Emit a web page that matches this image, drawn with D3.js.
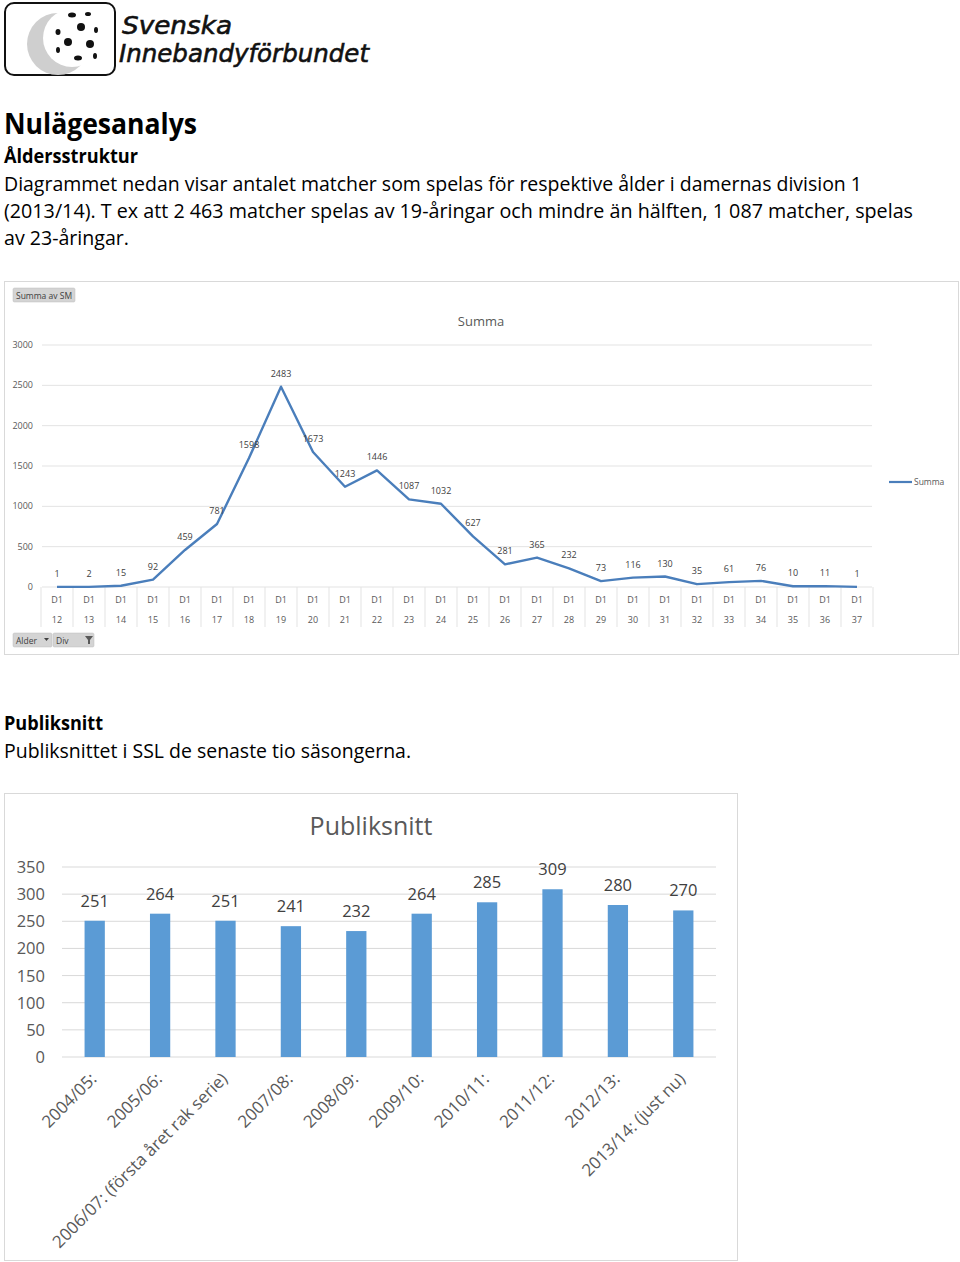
<!DOCTYPE html>
<meta charset="utf-8">
<script src="https://d3js.org/d3.v7.min.js"></script>
<style>
  body { margin: 0; background: #fff; }
  text { font-family: "Open Sans", sans-serif; }
</style>
<div id="page"></div>
<script>
// ---- data: age structure (Summa av SM per age, D1)
var ages = ["12","13","14","15","16","17","18","19","20","21","22","23","24","25",
            "26","27","28","29","30","31","32","33","34","35","36","37"];
var matches = [1, 2, 15, 92, 459, 781, 1598, 2483, 1673, 1243, 1446, 1087, 1032, 627,
               281, 365, 232, 73, 116, 130, 35, 61, 76, 10, 11, 1];
var lineTicks = [0, 500, 1000, 1500, 2000, 2500, 3000];

// ---- data: audience average (Publiksnitt)
var seasons = ["2004/05:", "2005/06:", "2006/07: (första året rak serie)", "2007/08:", "2008/09:",
               "2009/10:", "2010/11:", "2011/12:", "2012/13:", "2013/14:  (just nu)"];
var audience = [251, 264, 251, 241, 232, 264, 285, 309, 280, 270];
var barTicks = [0, 50, 100, 150, 200, 250, 300, 350];

var svg = d3.select("#page").append("svg")
    .attr("width", 960).attr("height", 1262);

// ---- logo
var logo = svg.append("g");
logo.append("rect").attr("x", 5).attr("y", 3).attr("width", 110).attr("height", 72)
    .attr("rx", 9).attr("fill", "#fff").attr("stroke", "#111").attr("stroke-width", 2);
logo.append("circle").attr("cx", 58).attr("cy", 44).attr("r", 31).attr("fill", "#cfcfcf");
logo.append("circle").attr("cx", 72).attr("cy", 38).attr("r", 29).attr("fill", "#fff");
[[72,15,4,2.5],[88,14,3,2],[81,27,4,4],[58,32,2.5,3],[96,30,2,3],[68,42,4,4],[90,44,4,4],
 [58,50,2,3],[78,58,4,2.5],[95,56,2,3]].forEach(function (d) {
  logo.append("ellipse").attr("cx", d[0]).attr("cy", d[1]).attr("rx", d[2]).attr("ry", d[3]).attr("fill", "#111");
});
logo.append("text").attr("x", 122).attr("y", 34).attr("font-size", 25).attr("font-style", "italic")
    .style("font-family", "DejaVu Sans").attr("fill", "#111").attr("stroke", "#111").attr("stroke-width", 0.6)
    .attr("textLength", 110).attr("lengthAdjust", "spacingAndGlyphs").text("Svenska");
logo.append("text").attr("x", 119).attr("y", 62).attr("font-size", 25).attr("font-style", "italic")
    .style("font-family", "DejaVu Sans").attr("fill", "#111").attr("stroke", "#111").attr("stroke-width", 0.6)
    .attr("textLength", 250).attr("lengthAdjust", "spacingAndGlyphs").text("Innebandyförbundet");

// ---- document text
function docText(x, y, size, weight, len, str) {
  var t = svg.append("text").attr("x", x).attr("y", y).attr("font-size", size)
      .attr("font-weight", weight).attr("fill", "#000").text(str);
  if (len) t.attr("textLength", len).attr("lengthAdjust", "spacingAndGlyphs");
}
docText(4, 134, 28, "bold", 193, "Nulägesanalys");
docText(4, 163, 20, "bold", 134, "Åldersstruktur");
docText(4, 191, 20, "normal", 858, "Diagrammet nedan visar antalet matcher som spelas för respektive ålder i damernas division 1");
docText(4, 218, 20, "normal", 909, "(2013/14). T ex att 2 463 matcher spelas av 19-åringar och mindre än hälften, 1 087 matcher, spelas");
docText(4, 245, 20, "normal", 125, "av 23-åringar.");
docText(4, 730, 20, "bold", 99, "Publiksnitt");
docText(4, 758, 20, "normal", 407, "Publiksnittet i SSL de senaste tio säsongerna.");

// ================= line chart =================
var lc = svg.append("g");
lc.append("rect").attr("x", 4.5).attr("y", 281.5).attr("width", 954).attr("height", 373)
    .attr("fill", "#fff").attr("stroke", "#d9d9d9");

function pivotButton(x, y, w, label) {
  lc.append("rect").attr("x", x).attr("y", y).attr("width", w).attr("height", 14)
      .attr("rx", 1.5).attr("fill", "#d4d4d4").attr("stroke", "#bdbdbd").attr("stroke-width", 0.5);
  lc.append("text").attr("x", x + 3).attr("y", y + 10.5).attr("font-size", 8.5)
      .attr("fill", "#404040").text(label);
}
pivotButton(13, 288, 62, "Summa av SM");
pivotButton(13, 633, 39, "Alder");
pivotButton(53, 633, 41, "Div");
lc.append("path").attr("d", "M44,638 l5,0 l-2.5,3 z").attr("fill", "#404040");
lc.append("path").attr("d", "M85,636 l8,0 l-3,4 l0,4 l-2,0 l0,-4 z").attr("fill", "#595959");

lc.append("text").attr("x", 481).attr("y", 326).attr("text-anchor", "middle")
    .attr("font-size", 13).attr("fill", "#595959").text("Summa");

var xL = d3.scaleBand().domain(ages).range([41, 873]);
var yL = d3.scaleLinear().domain([0, 3000]).range([587, 345]);

lc.append("g").selectAll("line").data(lineTicks).join("line")
    .attr("x1", 42).attr("x2", 872)
    .attr("y1", d => yL(d)).attr("y2", d => yL(d))
    .attr("stroke", "#e3e3e3");
lc.append("g").selectAll("text").data(lineTicks).join("text")
    .attr("x", 33).attr("y", d => yL(d) + 3).attr("text-anchor", "end")
    .attr("font-size", 9).attr("fill", "#595959").text(d => d);

// category table below axis
var bounds = ages.map(a => xL(a)).concat([xL.range()[1]]);
lc.append("g").selectAll("line").data(bounds).join("line")
    .attr("x1", d => d).attr("x2", d => d).attr("y1", 587).attr("y2", 627)
    .attr("stroke", "#e3e3e3");
var cat = lc.append("g").selectAll("g").data(ages).join("g")
    .attr("transform", d => "translate(" + (xL(d) + xL.bandwidth() / 2) + ",0)");
cat.append("text").attr("y", 603).attr("text-anchor", "middle").attr("font-size", 9)
    .attr("fill", "#595959").text("D1");
cat.append("text").attr("y", 623).attr("text-anchor", "middle").attr("font-size", 9)
    .attr("fill", "#595959").text(d => d);

var line = d3.line()
    .x((d, i) => xL(ages[i]) + xL.bandwidth() / 2)
    .y(d => yL(d));
lc.append("path").datum(matches).attr("d", line)
    .attr("fill", "none").attr("stroke", "#4a7ebb").attr("stroke-width", 2.4)
    .attr("stroke-linejoin", "round");
lc.append("g").selectAll("text").data(matches).join("text")
    .attr("x", (d, i) => xL(ages[i]) + xL.bandwidth() / 2)
    .attr("y", d => yL(d) - 10)
    .attr("text-anchor", "middle").attr("font-size", 9).attr("fill", "#404040")
    .text(d => d);

// legend
lc.append("line").attr("x1", 889).attr("x2", 912).attr("y1", 482).attr("y2", 482)
    .attr("stroke", "#4a7ebb").attr("stroke-width", 2.2);
lc.append("text").attr("x", 914).attr("y", 485).attr("font-size", 8.5)
    .attr("fill", "#595959").text("Summa");

// ================= bar chart =================
var bc = svg.append("g");
bc.append("rect").attr("x", 4.5).attr("y", 793.5).attr("width", 733).attr("height", 467)
    .attr("fill", "#fff").attr("stroke", "#d9d9d9");
bc.append("text").attr("x", 371).attr("y", 835).attr("text-anchor", "middle")
    .attr("font-size", 25).attr("fill", "#595959").text("Publiksnitt");

var xB = d3.scaleBand().domain(seasons).range([62, 716]).paddingInner(0.69).paddingOuter(0.345);
var yB = d3.scaleLinear().domain([0, 350]).range([1057, 867]);

bc.append("g").selectAll("line").data(barTicks).join("line")
    .attr("x1", 62).attr("x2", 716)
    .attr("y1", d => yB(d)).attr("y2", d => yB(d))
    .attr("stroke", "#d9d9d9");
bc.append("g").selectAll("text").data(barTicks).join("text")
    .attr("x", 45).attr("y", d => yB(d) + 6).attr("text-anchor", "end")
    .attr("font-size", 16.5).attr("fill", "#595959").text(d => d);

bc.append("g").selectAll("rect").data(audience).join("rect")
    .attr("x", (d, i) => xB(seasons[i]))
    .attr("width", xB.bandwidth())
    .attr("y", d => yB(d))
    .attr("height", d => yB(0) - yB(d))
    .attr("fill", "#5b9bd5");
bc.append("g").selectAll("text").data(audience).join("text")
    .attr("x", (d, i) => xB(seasons[i]) + xB.bandwidth() / 2)
    .attr("y", d => yB(d) - 14)
    .attr("text-anchor", "middle").attr("font-size", 16.5).attr("fill", "#404040")
    .text(d => d);

bc.append("g").selectAll("text").data(seasons).join("text")
    .attr("transform", d => "translate(" + (xB(d) + xB.bandwidth() / 2 + 3) + ",1080) rotate(-45)")
    .attr("text-anchor", "end").attr("font-size", 17).attr("fill", "#595959")
    .text(d => d);
</script>
